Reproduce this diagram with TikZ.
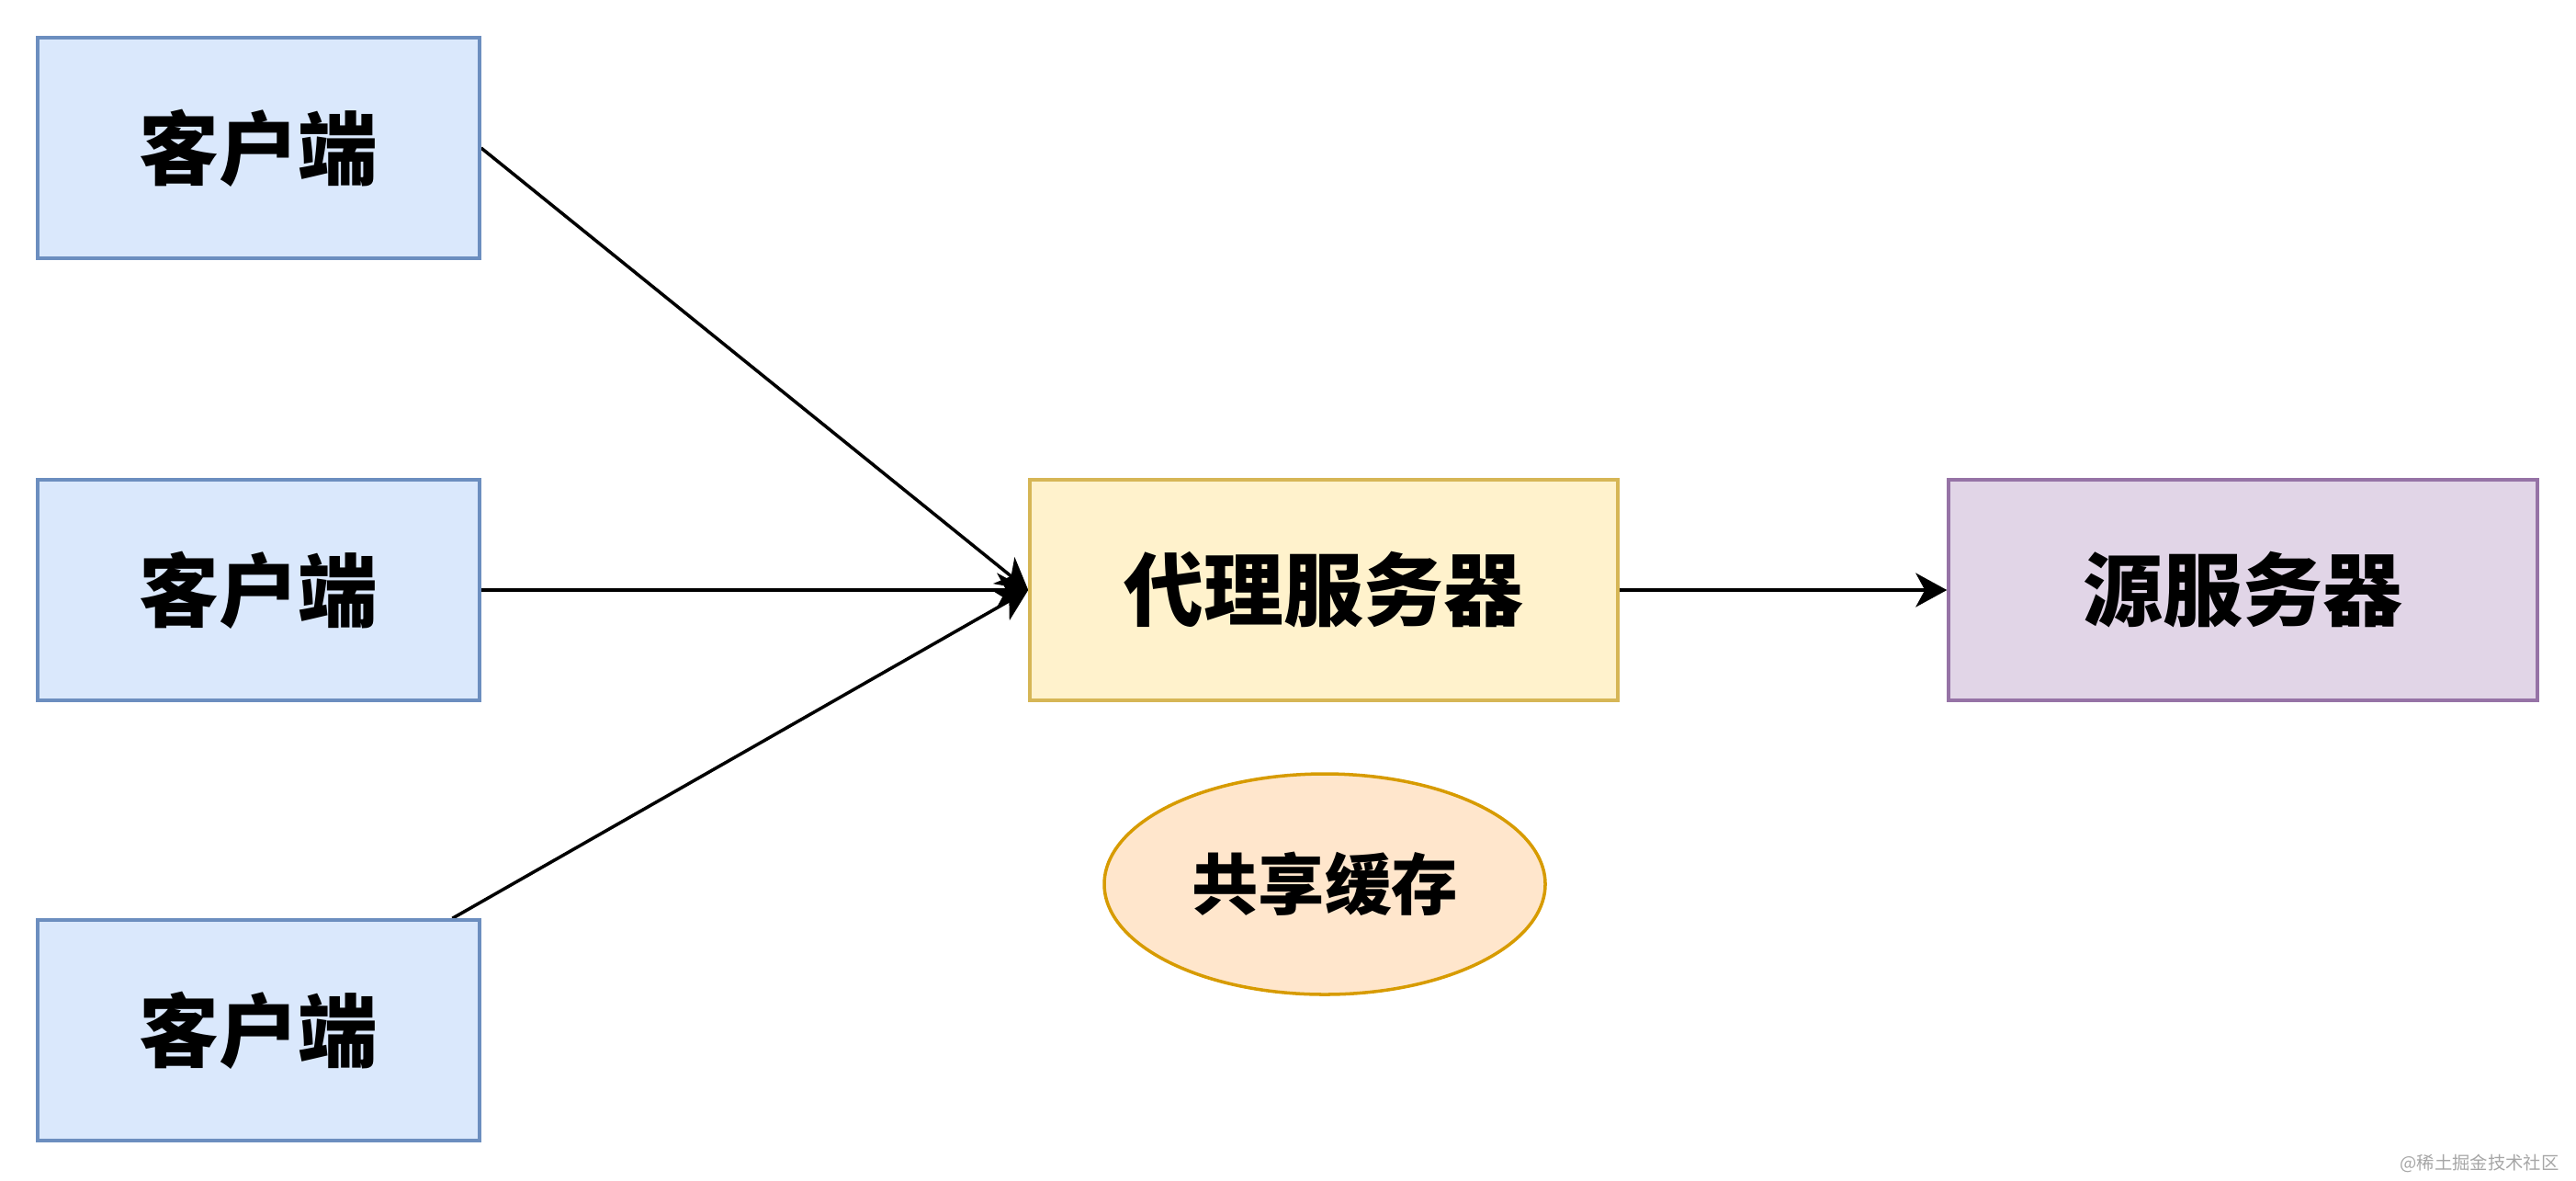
\documentclass[tikz,border=0pt]{standalone}
\usepackage{fontspec}
\usepackage{tikz}
\usetikzlibrary{shapes,arrows.meta}
\newfontfamily\cjk{Noto Sans CJK SC}
\pgfdeclarelayer{edgelayer}
\pgfdeclarelayer{nodelayer}
\pgfsetlayers{edgelayer,nodelayer,main}
\definecolor{cblue}{HTML}{DAE8FC}
\definecolor{cbluedraw}{HTML}{6C8EBF}
\definecolor{cyellow}{HTML}{FFF2CC}
\definecolor{cyellowdraw}{HTML}{D6B656}
\definecolor{cpurple}{HTML}{E1D5E7}
\definecolor{cpurpledraw}{HTML}{9673A6}
\definecolor{corange}{HTML}{FFE6CC}
\definecolor{corangedraw}{HTML}{D79B00}
\tikzstyle{box}=[rectangle, inner sep=0, minimum height=2.4cm, line width=1.000, font=\cjk\bfseries\fontsize{24.7pt}{30pt}\selectfont]
\tikzstyle{client}=[box, fill=cblue, draw=cbluedraw, minimum width=4.81cm]
\tikzstyle{proxy}=[box, fill=cyellow, draw=cyellowdraw, minimum width=6.4cm]
\tikzstyle{origin}=[box, fill=cpurple, draw=cpurpledraw, minimum width=6.41cm]
\tikzstyle{cache}=[ellipse, inner sep=0, fill=corange, draw=corangedraw, line width=1.000, minimum width=4.8cm, minimum height=2.4cm, font=\cjk\bfseries\fontsize{20.6pt}{25pt}\selectfont]
\tikzstyle{arrow}=[-{Stealth[length=0.34cm, width=0.37cm, inset=0.1cm]}, draw=black, line width=1.000]

\begin{document}
\begin{tikzpicture}
            \useasboundingbox (0, 0) rectangle (28.04, -12.84);
            \begin{pgfonlayer}{nodelayer}
                \node [style=client] (C1) at (2.815, -1.61) {客户端};
                \node [style=client] (C2) at (2.815, -6.42) {客户端};
                \node [style=client] (C3) at (2.815, -11.21) {客户端};
                \node [style=proxy] (Proxy) at (14.41, -6.42) {代理服务器};
                \node [style=origin] (Origin) at (24.415, -6.42) {源服务器};
                \node [style=cache] (Cache) at (14.42, -9.62) {共享缓存};
                \node [anchor=east, text=gray!70, font=\cjk\fontsize{5.5pt}{6pt}\selectfont] (Mark) at (27.98, -12.66) {@稀土掘金技术社区};
            \end{pgfonlayer}
            \begin{pgfonlayer}{edgelayer}
                \draw [style=arrow] (C1.east) to (Proxy.west);
                \draw [style=arrow] (C2.east) to (Proxy.west);
                \draw [style=arrow] (C3.30) to (Proxy.west);
                \draw [style=arrow] (Proxy.east) to (Origin.west);
            \end{pgfonlayer}
        \end{tikzpicture}
\end{document}
